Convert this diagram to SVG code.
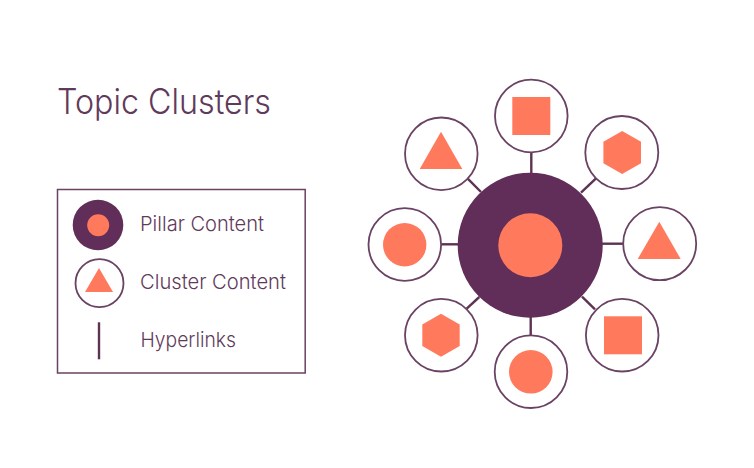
<svg xmlns="http://www.w3.org/2000/svg" width="754" height="468" viewBox="0 0 754 468">
<style>
text{font-family:"Inter","Liberation Sans",sans-serif;font-weight:300;fill:#5f3a5b}
.t{font-size:35px}
.l{font-size:20.5px}
.c{fill:#fff;stroke:#6a4263;stroke-width:1.8}
.p{fill:#612e59}
.o{fill:#ff7a5c}
.k{stroke:#5c3352;stroke-width:2.4;fill:none}
</style>
<rect width="754" height="468" fill="#fff"/>
<text id="title" class="t" x="57" y="113.5" textLength="214" lengthAdjust="spacingAndGlyphs">Topic Clusters</text>
<g id="legend">
<rect x="57.5" y="189.5" width="247.7" height="183.5" fill="none" stroke="#6a4263" stroke-width="1.5"/>
<g id="legend-pillar"><circle class="p" cx="98" cy="225" r="25.3"/><circle class="o" cx="98.2" cy="225.3" r="11"/><text class="l" x="140" y="231.3" textLength="124" lengthAdjust="spacingAndGlyphs">Pillar Content</text></g>
<g id="legend-cluster"><circle class="c" cx="99.5" cy="283.2" r="24"/><polygon class="o" points="99,268 113,292 85,292"/><text class="l" x="140" y="289" textLength="146" lengthAdjust="spacingAndGlyphs">Cluster Content</text></g>
<g id="legend-link"><line class="k" x1="99" y1="322.3" x2="99" y2="359.3" stroke-width="2.7"/><text class="l" x="140.5" y="346.7" textLength="95.5" lengthAdjust="spacingAndGlyphs">Hyperlinks</text></g>
</g>
<g id="connectors">
<line class="k" x1="531.3" y1="152.7" x2="531.3" y2="173.5"/>
<line class="k" x1="467.7" y1="178.7" x2="481" y2="192"/>
<line class="k" x1="596" y1="178.3" x2="581" y2="192.6"/>
<line class="k" x1="602" y1="243.7" x2="623" y2="243.7"/>
<line class="k" x1="582" y1="296.7" x2="595" y2="309.3"/>
<line class="k" x1="530.7" y1="317" x2="530.7" y2="335.3"/>
<line class="k" x1="479.3" y1="297" x2="466.7" y2="308.7"/>
<line class="k" x1="441.3" y1="244.3" x2="458" y2="244.3"/>
</g>
<g id="pillar"><circle class="p" cx="530.2" cy="245.2" r="72.5"/><circle class="o" cx="530.3" cy="245.3" r="32"/></g>
<g id="cluster-top"><circle class="c" cx="531.3" cy="116" r="36.3"/><rect class="o" x="512.3" y="97" width="38" height="38"/></g>
<g id="cluster-top-right"><circle class="c" cx="621.8" cy="152.5" r="36.5"/><polygon class="o" points="622.2,131 641,141.7 641,163.3 622.2,174 603.4,163.3 603.4,141.7"/></g>
<g id="cluster-right"><circle class="c" cx="659.7" cy="243.7" r="36.5"/><polygon class="o" points="659.3,221.7 680.7,259 637.7,259"/></g>
<g id="cluster-bottom-right"><circle class="c" cx="622.2" cy="335.2" r="36.3"/><rect class="o" x="604" y="316.3" width="38" height="38"/></g>
<g id="cluster-bottom"><circle class="c" cx="531" cy="371.7" r="36.3"/><circle class="o" cx="530.8" cy="371.8" r="21.8"/></g>
<g id="cluster-bottom-left"><circle class="c" cx="441.3" cy="335.2" r="36.3"/><polygon class="o" points="441,313.7 459.7,324.4 459.7,346 441,356.7 422.3,346 422.3,324.4"/></g>
<g id="cluster-left"><circle class="c" cx="404.8" cy="244.5" r="36.3"/><circle class="o" cx="404.7" cy="244.7" r="21.7"/></g>
<g id="cluster-top-left"><circle class="c" cx="441.3" cy="153.8" r="36.3"/><polygon class="o" points="441,131.7 462.3,169 419.7,169"/></g>
</svg>
